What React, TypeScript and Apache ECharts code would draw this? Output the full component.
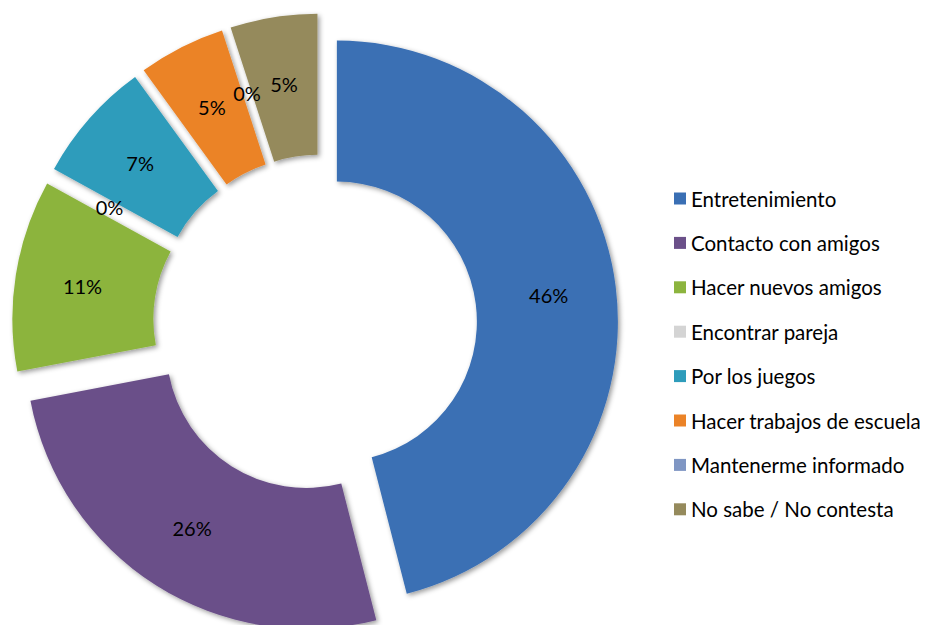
import React, { useEffect, useRef } from "react";
import * as echarts from "echarts";

const categories = [
  "Entretenimiento",
  "Contacto con amigos",
  "Hacer nuevos amigos",
  "Encontrar pareja",
  "Por los juegos",
  "Hacer trabajos de escuela",
  "Mantenerme informado",
  "No sabe / No contesta",
];
const percents = [46, 26, 11, 0, 7, 5, 0, 5];
const colors = [
  "#3A6FB4",
  "#6B5089",
  "#8CB43E",
  "#D4D4D4",
  "#2E9CBB",
  "#EB8327",
  "#7F96C3",
  "#958A5C",
];
const explodeOffsets = [15, 29, 29, 29, 29, 29, 29, 29];

const CX = 322;
const CY = 323.5;
const R_IN = 140;
const R_OUT = 281;
const FONT = "Lato, 'Open Sans', sans-serif";

function buildOption() {
  const total = percents.reduce((a, b) => a + b, 0);
  let cum = 0;
  const series: any[] = percents.map((v, i) => {
    const mid = ((cum + v / 2) / total) * 2 * Math.PI;
    cum += v;
    const d = explodeOffsets[i];
    const center = [CX + d * Math.sin(mid), CY - d * Math.cos(mid)];
    return {
      type: "pie",
      name: categories[i],
      center,
      radius: [R_IN, R_OUT],
      startAngle: 90,
      clockwise: true,
      avoidLabelOverlap: false,
      minAngle: 0,
      z: 2,
      labelLine: { show: false },
      emphasis: { disabled: true },
      label: {
        show: true,
        position: "inside",
        formatter: (p: any) => p.value + "%",
        fontFamily: FONT,
        fontSize: 20,
        color: "#000",
      },
      data: percents.map((val, j) =>
        j === i
          ? {
              name: categories[j],
              value: val,
              itemStyle: {
                color: colors[j],
                shadowBlur: 5,
                shadowColor: "rgba(0,0,0,0.4)",
                shadowOffsetX: 2,
                shadowOffsetY: 2,
              },
            }
          : {
              name: "__" + i + "_" + j,
              value: val,
              itemStyle: { color: "rgba(0,0,0,0)" },
              label: { show: false },
            }
      ),
    };
  });

  return {
    animation: false,
    backgroundColor: "#ffffff",
    legend: {
      orient: "vertical",
      left: 669,
      top: 183,
      itemWidth: 12,
      itemHeight: 12,
      itemGap: 23.4,
      selectedMode: false,
      data: categories.map((name, i) => ({
        name,
        icon: "rect",
        itemStyle: { color: colors[i] },
      })),
      textStyle: {
        fontFamily: FONT,
        fontSize: 20.5,
        lineHeight: 20,
        color: "#000",
      },
    },
    series,
  };
}

export default function App() {
  const ref = useRef<HTMLDivElement>(null);
  useEffect(() => {
    if (!ref.current) return;
    const chart = echarts.init(ref.current, null, { renderer: "svg" });
    chart.setOption(buildOption());
    return () => chart.dispose();
  }, []);
  return (
    <div
      ref={ref}
      style={{ position: "absolute", left: 0, top: 0, width: 934, height: 625 }}
    />
  );
}
